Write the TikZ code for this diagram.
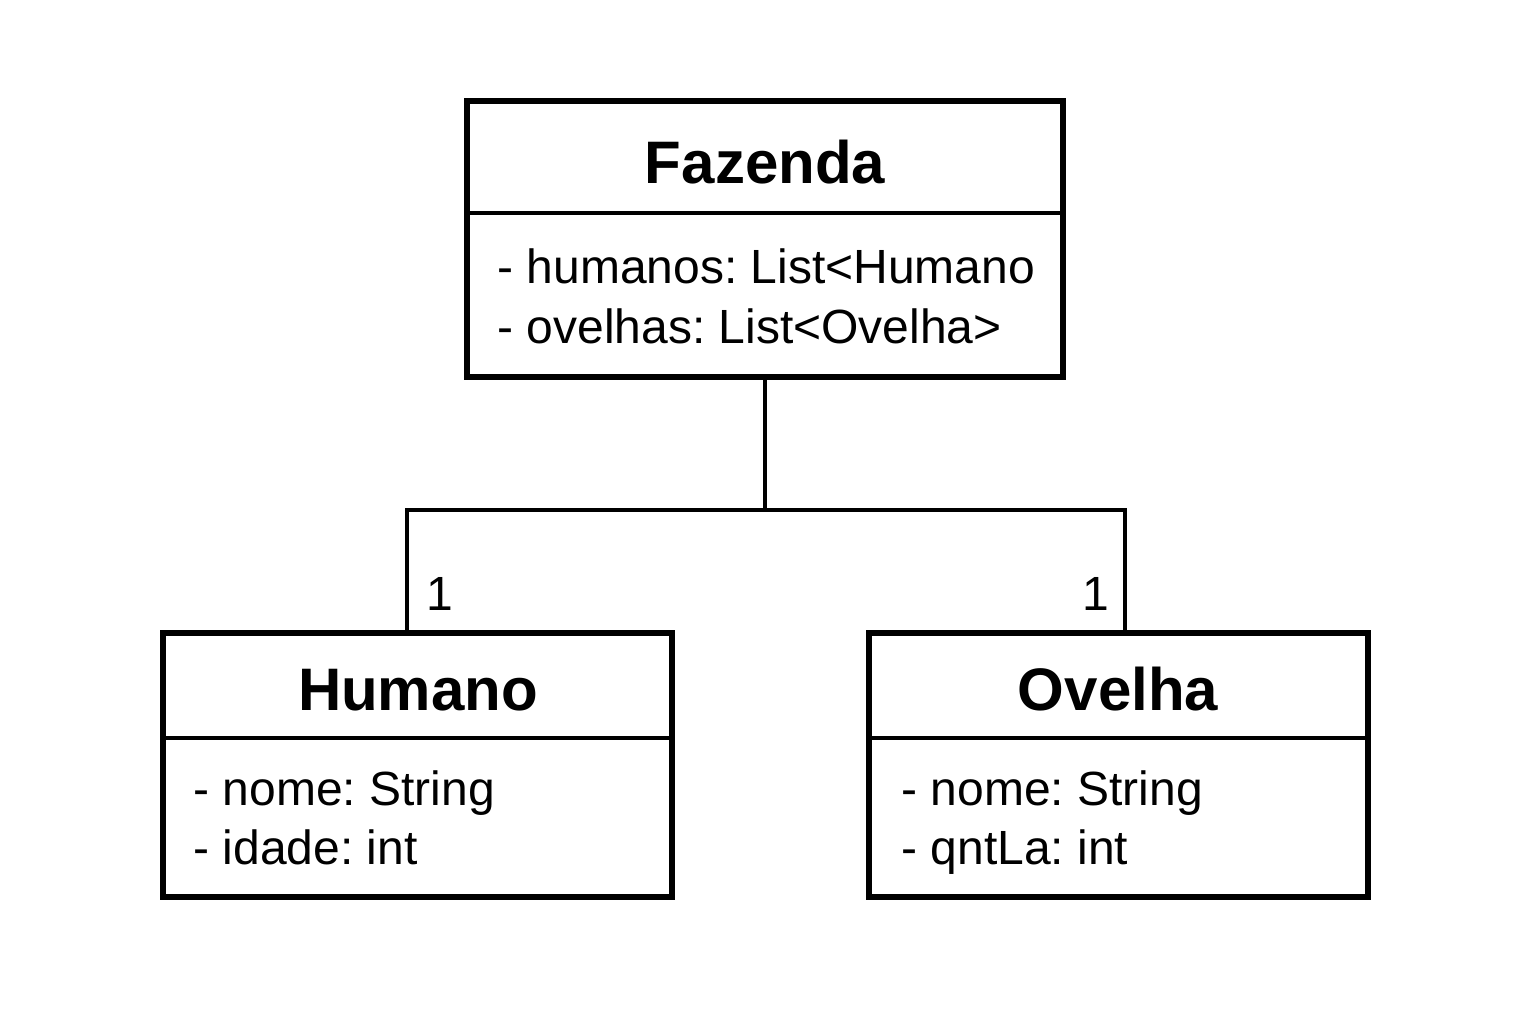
\documentclass[tikz,border=0pt]{standalone}
\usepackage{fontspec}
\setmainfont{Liberation Sans}
\frenchspacing
\begin{document}
\begin{tikzpicture}[x=0.5pt,y=-0.5pt,
  classbox/.style={draw=black,line width=2.6pt,fill=white,inner sep=0pt,rectangle},
  divider/.style={line width=2.4pt},
  conn/.style={draw=black,line width=2.2pt},
  title/.style={font=\fontsize{30pt}{36pt}\selectfont\bfseries,anchor=base,inner sep=0pt},
  attr/.style={font=\fontsize{24pt}{29pt}\selectfont,anchor=base west,inner sep=0pt},
  mult/.style={font=\fontsize{24pt}{29pt}\selectfont,anchor=base,inner sep=0pt}]
\useasboundingbox[fill=white] (0,0) rectangle (1536,1024);
% connector
\coordinate (j) at (765,510);
\coordinate (hconn) at (407,633);
\coordinate (oconn) at (1125,633);
% boxes
\node[classbox,minimum width=298pt,minimum height=138pt] (faz) at (765,239) {};
\node[classbox,minimum width=254.5pt,minimum height=132pt] (hum) at (417.5,765) {};
\node[classbox,minimum width=249.5pt,minimum height=132pt] (ove) at (1118.5,765) {};
\draw[conn] (faz.south) -- (j);
\draw[conn] (hconn) |- (j) -| (oconn);
\draw[divider] (faz.west |- 0,213) -- (faz.east |- 0,213);
\draw[divider] (hum.west |- 0,738) -- (hum.east |- 0,738);
\draw[divider] (ove.west |- 0,738) -- (ove.east |- 0,738);
% texts
\node[title] (tfaz) at (765,183) {Fazenda};
\node[attr] (a1) at (497,283) {- humanos: List<Humano};
\node[attr] (a2) at (497,343) {- ovelhas: List<Ovelha>};
\node[title] (thum) at (418,710) {Humano};
\node[attr] (h1) at (193,805) {- nome: String};
\node[attr] (h2) at (193,864) {- idade: int};
\node[title] (tove) at (1118,710) {Ovelha};
\node[attr] (o1) at (901,805) {- nome: String};
\node[attr] (o2) at (901,864) {- qntLa: int};
\node[mult] (m1) at (440,610) {1};
\node[mult] (m2) at (1096,610) {1};
\end{tikzpicture}
\end{document}
